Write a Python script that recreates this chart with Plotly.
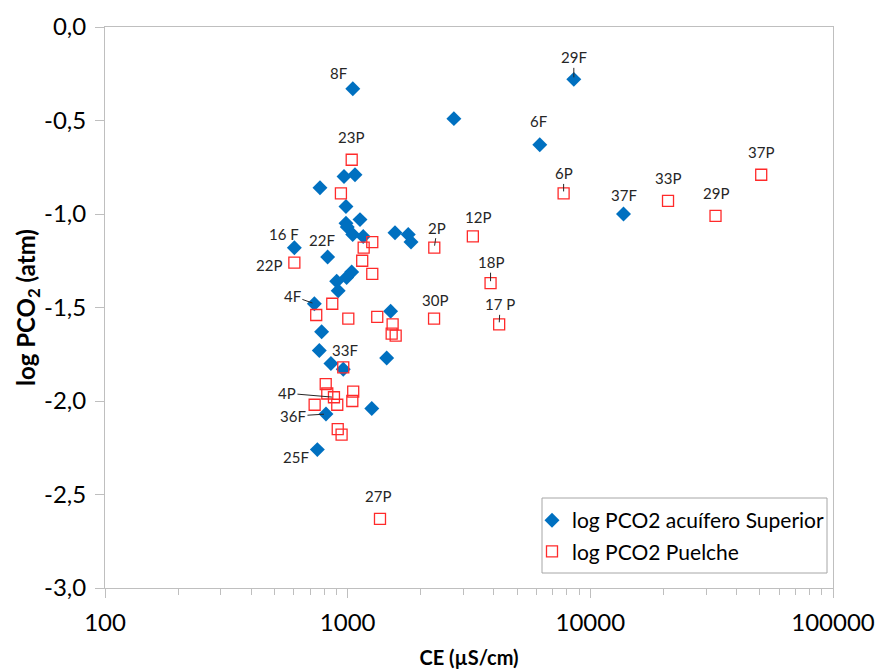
import numpy as np
import plotly.graph_objects as go

# ---------------- data ----------------
ce_sup = [1050, 8550, 2740, 6190, 13700, 966, 1072, 769, 984, 984, 996, 1124, 1049, 1159,
          1567, 1777, 1824, 603, 827, 1039, 990, 901, 914, 729, 1503, 781, 764, 1448, 853,
          959, 814, 1257, 750]
pco2_sup = [-0.33, -0.28, -0.49, -0.63, -1.00, -0.80, -0.79, -0.86, -0.96, -1.05, -1.07, -1.03,
            -1.11, -1.12, -1.10, -1.11, -1.15, -1.18, -1.23, -1.31, -1.34, -1.36, -1.41, -1.48,
            -1.52, -1.63, -1.73, -1.77, -1.80, -1.83, -2.07, -2.04, -2.26]

ce_pue = [7760, 20900, 32800, 50600, 3280, 2275, 3880, 2270, 4210, 1039, 938, 1263, 1164, 603,
          1148, 1263, 864, 742, 1006, 1324, 1532, 1518, 1577, 959, 812, 824, 878, 906, 731,
          1054, 1045, 910, 944, 1359]
pco2_pue = [-0.89, -0.93, -1.01, -0.79, -1.12, -1.18, -1.37, -1.56, -1.59, -0.71, -0.89, -1.15,
            -1.18, -1.26, -1.25, -1.32, -1.48, -1.54, -1.56, -1.55, -1.59, -1.64, -1.65, -1.82,
            -1.91, -1.96, -1.98, -2.02, -2.02, -1.95, -2.00, -2.15, -2.18, -2.63]

# labels: (series, index, text)
label_points = [
    ("sup", 0, "8F"), ("sup", 1, "29F"), ("sup", 3, "6F"), ("sup", 4, "37F"),
    ("sup", 17, "16 F"), ("sup", 18, "22F"), ("sup", 23, "4F"), ("sup", 29, "33F"),
    ("sup", 30, "36F"), ("sup", 32, "25F"),
    ("pue", 0, "6P"), ("pue", 1, "33P"), ("pue", 2, "29P"), ("pue", 3, "37P"),
    ("pue", 4, "12P"), ("pue", 5, "2P"), ("pue", 6, "18P"), ("pue", 7, "30P"),
    ("pue", 8, "17 P"), ("pue", 9, "23P"), ("pue", 13, "22P"), ("pue", 26, "4P"),
    ("pue", 33, "27P"),
]
# label offsets in pixels (dx right, dy down) and whether a leader line is drawn
label_style = {
    "8F": (-14, -16, False), "29F": (0, -22, True), "6F": (-1, -24, False),
    "37F": (0, -19, False), "16 F": (-10, -14, False), "22F": (-6, -17, False),
    "4F": (-22, -8, True), "33F": (2, -19, False), "36F": (-33, 2, True),
    "25F": (-21, 7, False),
    "6P": (0, -20, True), "33P": (0, -23, False), "29P": (0, -23, False),
    "37P": (0, -23, False), "12P": (5, -19, False), "2P": (3, -20, True),
    "18P": (0, -21, True), "30P": (1, -19, False), "17 P": (1, -20, True),
    "23P": (-1, -23, False), "22P": (-25, 2, False), "4P": (-47, -4, True),
    "27P": (-2, -23, False),
}

y_ticks = [-3.0, -2.5, -2.0, -1.5, -1.0, -0.5, 0.0]
y_ticktext = ["-3,0", "-2,5", "-2,0", "-1,5", "-1,0", "-0,5", "0,0"]
x_ticks = [100, 1000, 10000, 100000]
x_ticktext = ["100", "1000", "10000", "100000"]

FONT = "Lato, 'Open Sans', sans-serif"
AX = "#BFBFBF"

fig = go.Figure()
fig.add_trace(go.Scatter(
    x=ce_sup, y=pco2_sup, mode="markers", name="log PCO2 acuífero Superior",
    legendgroup="a",
    marker=dict(symbol="diamond", size=11.5, color="#0070C0", line=dict(width=0)),
))
fig.add_trace(go.Scatter(
    x=ce_pue, y=pco2_pue, mode="markers", name="log PCO2 Puelche",
    legendgroup="b",
    marker=dict(symbol="square-open", size=11, color="#FF2A2A", line=dict(width=1.3)),
))

series = {"sup": (ce_sup, pco2_sup), "pue": (ce_pue, pco2_pue)}
for s, i, txt in label_points:
    xs, ys = series[s]
    dx, dy, leader = label_style[txt]
    common = dict(x=float(np.log10(xs[i])), y=ys[i], xref="x", yref="y", text=txt,
                  font=dict(family=FONT, size=15, color="#262626"))
    if leader:
        fig.add_annotation(**common, showarrow=True, arrowhead=0, arrowwidth=1,
                           arrowcolor="#262626", ax=dx, ay=dy, standoff=2)
    else:
        fig.add_annotation(**common, showarrow=False, xshift=dx, yshift=-dy)

# legend box
fig.add_shape(type="rect", xref="paper", yref="paper",
              x0=(542 - 105) / 728, x1=(827 - 105) / 728,
              y0=(588 - 573) / 561, y1=(588 - 498) / 561,
              line=dict(color="#A6A6A6", width=1), fillcolor="white", layer="below")

fig.update_layout(
    width=875, height=671,
    margin=dict(l=105, r=42, t=27, b=83, autoexpand=False),
    paper_bgcolor="white", plot_bgcolor="white",
    font=dict(family=FONT, color="#000000"),
    showlegend=True,
    legend=dict(x=(532 - 105) / 728, y=(588 - 500) / 561, xanchor="left", yanchor="top",
                bgcolor="rgba(0,0,0,0)", borderwidth=0, tracegroupgap=1,
                font=dict(family=FONT, size=21, color="#000000")),
    xaxis=dict(type="log", range=[2, 5], tickvals=x_ticks, ticktext=x_ticktext,
               automargin=False,
               showline=True, linecolor=AX, linewidth=1, mirror=True,
               ticks="outside", ticklen=9, tickcolor=AX, tickwidth=1,
               minor=dict(ticks="outside", ticklen=6, tickcolor=AX, dtick="D1", showgrid=False),
               showgrid=False, zeroline=False,
               tickfont=dict(family=FONT, size=24, color="#000000"),
               ticklabelstandoff=4,
               title=dict(text="<b>CE (µS/cm)</b>", font=dict(family=FONT, size=20, color="#000000"),
                          standoff=16)),
    yaxis=dict(range=[-3, 0], tickvals=y_ticks, ticktext=y_ticktext,
               automargin=False,
               showline=True, linecolor=AX, linewidth=1, mirror=True,
               ticks="outside", ticklen=9, tickcolor=AX, tickwidth=1,
               showgrid=False, zeroline=False,
               tickfont=dict(family=FONT, size=24, color="#000000"),
               ticklabelstandoff=4,
               title=dict(text="<b>log PCO<sub>2</sub> (atm)</b>",
                          font=dict(family=FONT, size=24, color="#000000"), standoff=0)),
)

fig.write_html("out.html")
